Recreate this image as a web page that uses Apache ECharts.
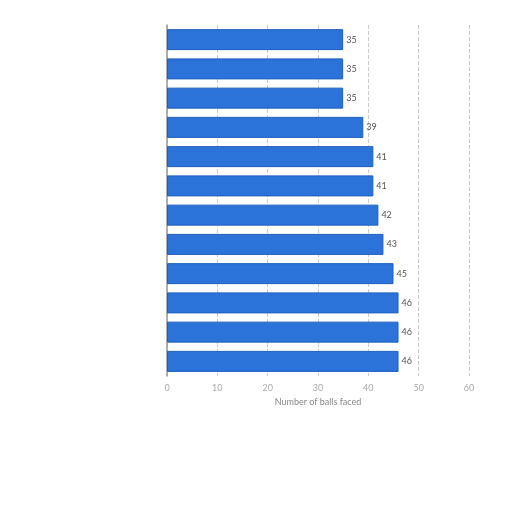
<!DOCTYPE html>
<html>
<head>
<meta charset="utf-8">
<script src="https://cdn.jsdelivr.net/npm/echarts@6/dist/echarts.min.js"></script>
<style>
    html, body {margin: 0; padding: 0; background: #fff;}
    #chart {width: 512px; height: 512px;}
</style>
</head>
<body>
<div id="chart"></div>
<script>
// category names are not legible in the reference, so rows are just ranked
const categories = ['1', '2', '3', '4', '5', '6', '7', '8', '9', '10', '11', '12'];
const ballsFaced = [35, 35, 35, 39, 41, 41, 42, 43, 45, 46, 46, 46];
const xTicks = {min: 0, max: 60, interval: 10};

const myChart = echarts.init(document.getElementById('chart'), null, {renderer: 'canvas'});

myChart.setOption({
    animation: false,
    backgroundColor: '#fff',
    grid: {left: 167, right: 43, top: 25, bottom: 136},
    xAxis: {
        type: 'value',
        min: xTicks.min,
        max: xTicks.max,
        interval: xTicks.interval,
        name: 'Number of balls faced',
        nameLocation: 'middle',
        nameGap: 22,
        nameTextStyle: {color: '#888', fontSize: 9, fontFamily: 'Lato'},
        axisLine: {show: false},
        axisTick: {show: false},
        axisLabel: {color: '#aaa', fontSize: 9, fontFamily: 'Lato', margin: 8},
        splitLine: {lineStyle: {color: '#ccc', type: 'dashed', width: 1}},
    },
    yAxis: {
        type: 'category',
        data: categories,
        inverse: true,
        axisLine: {lineStyle: {color: '#999', width: 1.5}},
        axisTick: {show: false},
        axisLabel: {show: false},
    },
    series: [{
        type: 'bar',
        data: ballsFaced,
        barWidth: 21,
        itemStyle: {color: '#2b73d9', borderColor: '#1f5ebd', borderWidth: 1},
        label: {
            show: true,
            position: 'right',
            distance: 3,
            color: '#555',
            fontSize: 9,
            fontFamily: 'Lato',
        },
    }],
});

window.addEventListener('resize', () => myChart.resize());
</script>
</body>
</html>
